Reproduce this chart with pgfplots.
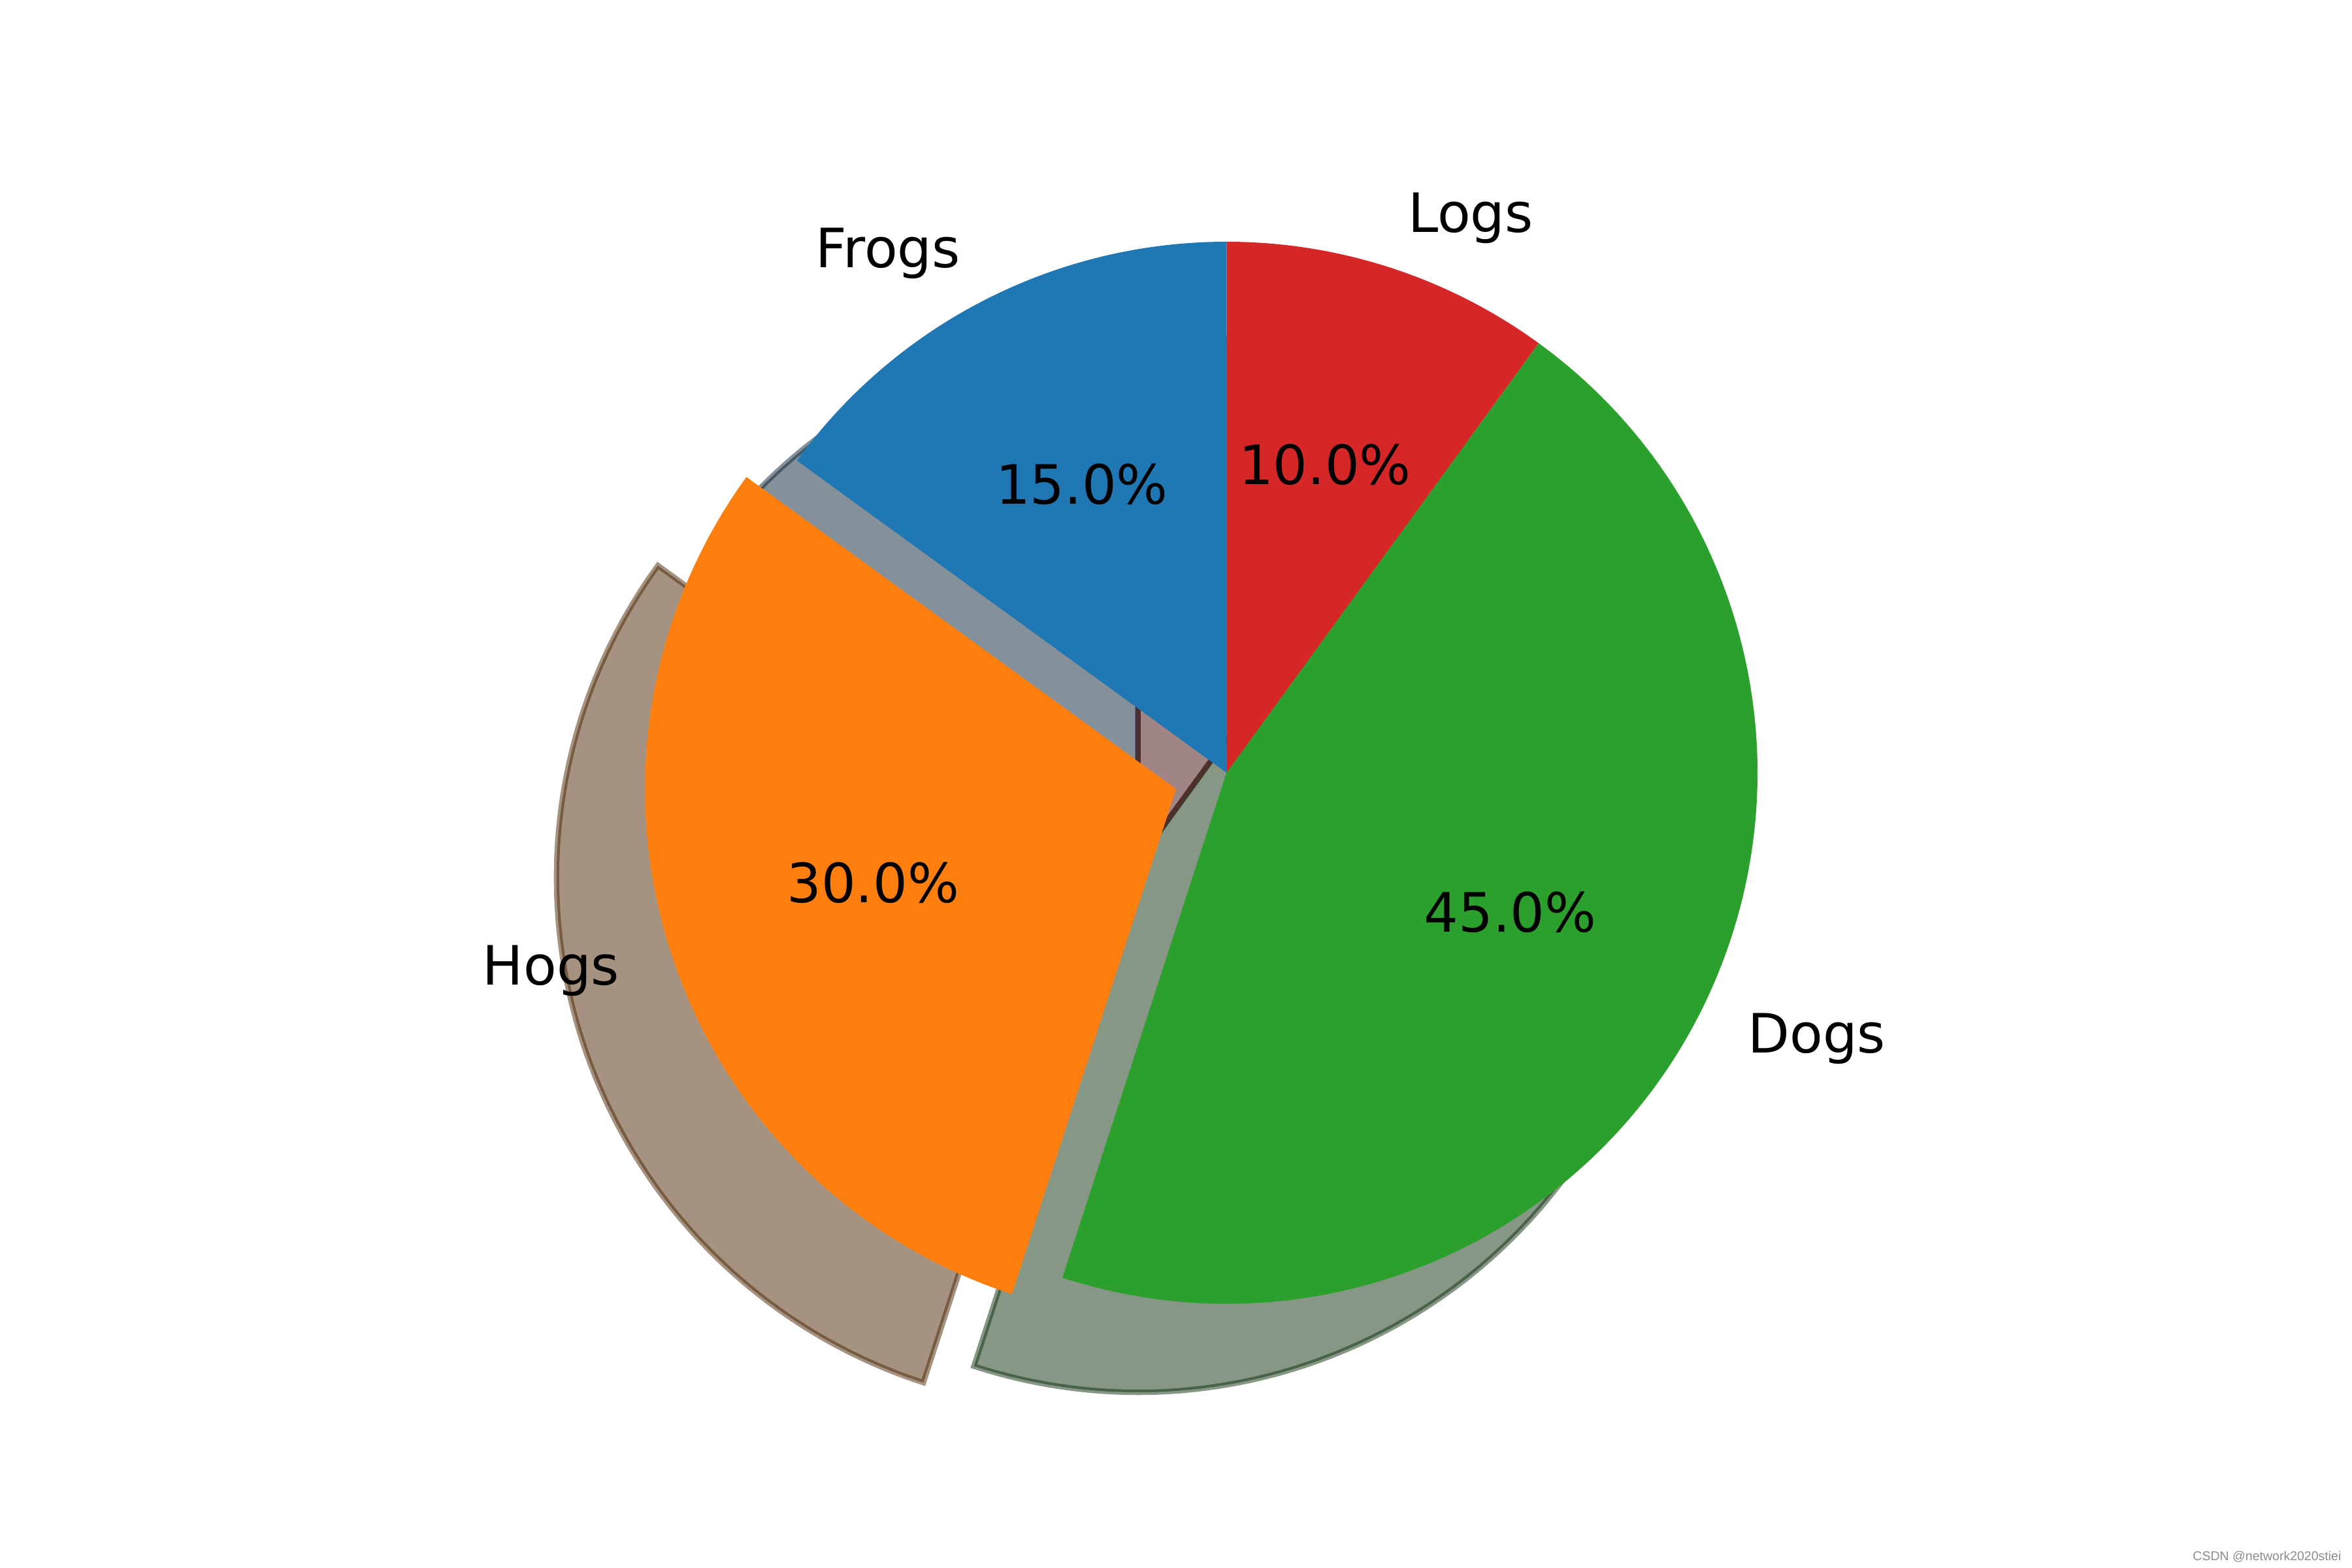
\documentclass[border=0pt]{standalone}
\usepackage{fontspec}
\setmainfont{DejaVu Sans}
\newfontfamily\wmfont{Liberation Sans}
\usepackage{pgfplots}
\usepackage{pgfplotstable}
\pgfplotsset{compat=1.18}

% tab10 palette
\definecolor{C0}{HTML}{1F77B4}
\definecolor{C1}{HTML}{FF7F0E}
\definecolor{C2}{HTML}{2CA02C}
\definecolor{C3}{HTML}{D62728}

% slices, counter-clockwise from 90 degrees
\pgfplotstableread{
label value explode colour
Frogs 15 0   C0
Hogs  30 0.1 C1
Dogs  45 0   C2
Logs  10 0   C3
}\piedata

\newcommand\pieR{1.3545in}   % one axis unit = pie radius
\newcommand\shadowoff{0.16667} % shadow shift in axis units

% total of the values
\def\pietotal{0}
\pgfplotstablegetrowsof{\piedata}
\pgfmathtruncatemacro\pielast{\pgfplotsretval-1}
\pgfplotsforeachungrouped \i in {0,...,\pielast}{%
  \pgfplotstablegetelem{\i}{value}\of\piedata
  \pgfmathsetmacro\pietotal{\pietotal+\pgfplotsretval}%
  \xdef\pietotal{\pietotal}%
}

% geometry of each slice
\def\curangle{90}
\newcommand\prepwedge[1]{%
  \pgfplotstablegetelem{#1}{value}\of\piedata \let\tmpv\pgfplotsretval
  \pgfplotstablegetelem{#1}{explode}\of\piedata \let\tmpe\pgfplotsretval
  \pgfplotstablegetelem{#1}{label}\of\piedata \let\tmpl\pgfplotsretval
  \pgfplotstablegetelem{#1}{colour}\of\piedata \let\tmpc\pgfplotsretval
  \pgfmathsetmacro\tmpa{\curangle}%
  \pgfmathsetmacro\tmpb{\curangle+360*\tmpv/\pietotal}%
  \pgfmathsetmacro\tmpm{(\tmpa+\tmpb)/2}%
  \pgfmathsetmacro\tmpcx{\tmpe*cos(\tmpm)}%
  \pgfmathsetmacro\tmpcy{\tmpe*sin(\tmpm)}%
  \pgfmathsetmacro\tmpsx{\tmpcx+cos(\tmpa)}%
  \pgfmathsetmacro\tmpsy{\tmpcy+sin(\tmpa)}%
  \pgfmathsetmacro\tmplx{\tmpcx+1.1*cos(\tmpm)}%
  \pgfmathsetmacro\tmply{\tmpcy+1.1*sin(\tmpm)}%
  \pgfmathsetmacro\tmpqx{\tmpcx+0.6*cos(\tmpm)}%
  \pgfmathsetmacro\tmpqy{\tmpcy+0.6*sin(\tmpm)}%
  \pgfmathsetmacro\tmpp{100*\tmpv/\pietotal}%
  \pgfmathsetmacro\tmpcos{cos(\tmpm)}%
  \ifdim\tmpcos pt>0pt \def\tmpn{west}\else\def\tmpn{east}\fi
  \expandafter\xdef\csname pa#1\endcsname{\tmpa}%
  \expandafter\xdef\csname pb#1\endcsname{\tmpb}%
  \expandafter\xdef\csname pcx#1\endcsname{\tmpcx}%
  \expandafter\xdef\csname pcy#1\endcsname{\tmpcy}%
  \expandafter\xdef\csname psx#1\endcsname{\tmpsx}%
  \expandafter\xdef\csname psy#1\endcsname{\tmpsy}%
  \expandafter\xdef\csname plx#1\endcsname{\tmplx}%
  \expandafter\xdef\csname ply#1\endcsname{\tmply}%
  \expandafter\xdef\csname pqx#1\endcsname{\tmpqx}%
  \expandafter\xdef\csname pqy#1\endcsname{\tmpqy}%
  \expandafter\xdef\csname pp#1\endcsname{\tmpp}%
  \expandafter\xdef\csname pl#1\endcsname{\tmpl}%
  \expandafter\xdef\csname pc#1\endcsname{\tmpc}%
  \expandafter\xdef\csname pn#1\endcsname{\tmpn}%
  \xdef\curangle{\tmpb}%
}
\pgfplotsforeachungrouped \i in {0,...,\pielast}{\expandafter\prepwedge\expandafter{\i}}

% slice shadow: colour darkened to 30 %, half transparent, shifted down-left
\newcommand\shadowwedge[1]{%
  \pgfmathsetmacro\wcx{\csname pcx#1\endcsname-\shadowoff}%
  \pgfmathsetmacro\wcy{\csname pcy#1\endcsname-\shadowoff}%
  \pgfmathsetmacro\wsx{\csname psx#1\endcsname-\shadowoff}%
  \pgfmathsetmacro\wsy{\csname psy#1\endcsname-\shadowoff}%
  \edef\doit{\noexpand\filldraw[fill=\csname pc#1\endcsname!30!black,
      draw=\csname pc#1\endcsname!30!black,
      fill opacity=0.5, draw opacity=0.5, line width=1pt]
    (axis cs:\wcx,\wcy) -- (axis cs:\wsx,\wsy)
    arc[start angle=\csname pa#1\endcsname, end angle=\csname pb#1\endcsname, radius=\pieR]
    -- cycle;}%
  \doit
}
% slice itself
\newcommand\drawwedge[1]{%
  \edef\doit{\noexpand\fill[\csname pc#1\endcsname]
    (axis cs:\csname pcx#1\endcsname,\csname pcy#1\endcsname)
    -- (axis cs:\csname psx#1\endcsname,\csname psy#1\endcsname)
    arc[start angle=\csname pa#1\endcsname, end angle=\csname pb#1\endcsname, radius=\pieR]
    -- cycle;}%
  \doit
}
% category name and share
\newcommand\labelwedge[1]{%
  \edef\doit{%
    \noexpand\node[anchor=\csname pn#1\endcsname, inner sep=0pt,
        text height=0.76em, text depth=0.208em]
      at (axis cs:\csname plx#1\endcsname,\csname ply#1\endcsname)
      {\csname pl#1\endcsname};
    \noexpand\node[anchor=center, inner sep=0pt,
        text height=0.76em, text depth=0.208em]
      at (axis cs:\csname pqx#1\endcsname,\csname pqy#1\endcsname)
      {\noexpand\pgfmathprintnumber[fixed, fixed zerofill, precision=1,
        assume math mode=true]{\csname pp#1\endcsname}\noexpand\%};}%
  \doit
}

\begin{document}
\begin{tikzpicture}
\begin{axis}[
  x=\pieR, y=\pieR,
  xmin=-2.3099, xmax=2.1198,
  ymin=-1.4978, ymax=1.4553,
  scale only axis, hide axis, clip=false,
]
  \pgfplotsforeachungrouped \i in {0,...,3}{\expandafter\shadowwedge\expandafter{\i}}
  \pgfplotsforeachungrouped \i in {0,...,3}{\expandafter\drawwedge\expandafter{\i}}
  \pgfplotsforeachungrouped \i in {0,...,3}{\expandafter\labelwedge\expandafter{\i}}
\end{axis}
\pgfresetboundingbox
\path (current axis.south west) rectangle (current axis.north east);
\node[anchor=base east, inner sep=0pt, text=black!45,
      font=\wmfont\fontsize{2.35}{2.8}\selectfont]
  at ([xshift=-0.025in, yshift=0.02in]current axis.south east)
  {CSDN @network2020stiei};
\end{tikzpicture}
\end{document}
